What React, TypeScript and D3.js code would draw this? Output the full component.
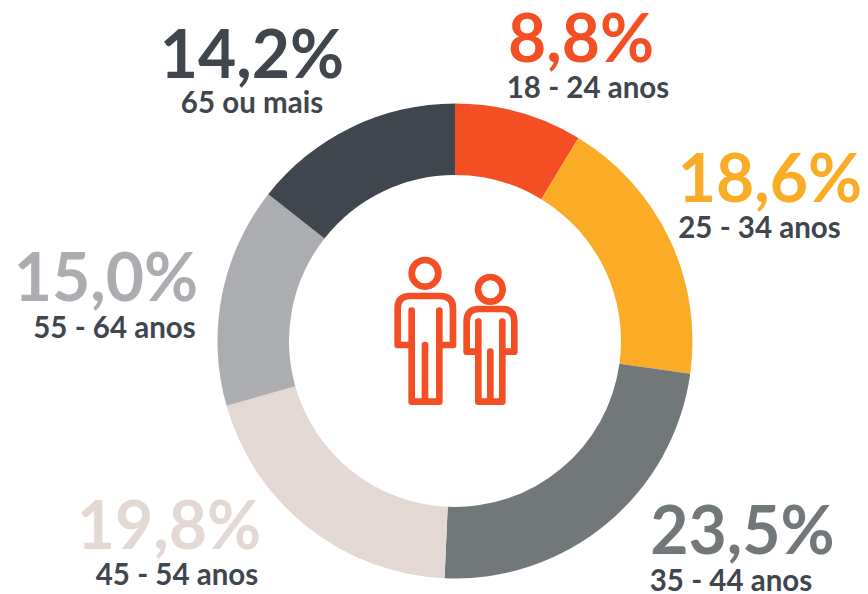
import React from "react";
import * as d3 from "d3";

const categories = ["18 - 24 anos", "25 - 34 anos", "35 - 44 anos", "45 - 54 anos", "55 - 64 anos", "65 ou mais"];
const sliceShares = [8.7, 18.5, 23.5, 19.9, 15.0, 14.4];
const valueLabels = ["8,8%", "18,6%", "23,5%", "19,8%", "15,0%", "14,2%"];
const colors = ["#f44f24", "#fbac26", "#72777a", "#e3d8d3", "#abadb1", "#40464e"];
const labelX = [581, 770, 742.5, 169, 106, 252];
const labelY = [62, 202, 554, 549, 301, 78];
const subX = [588, 759.5, 731, 177, 114.5, 252];
const subY = [98, 238, 591, 585, 338, 113];

const W = 868, H = 594, CX = 455, CY = 341, R = 237.5, r = 166;
const font = "'Lato', 'Open Sans', sans-serif";
const ink = "#40464e";
const accent = "#f44f24";

export default function App() {
  const pie = d3.pie<number>().sort(null).value((d) => d);
  const arc = d3.arc<d3.PieArcDatum<number>>().innerRadius(r).outerRadius(R);
  const arcs = pie(sliceShares);
  return (
    <svg width={W} height={H} viewBox={`0 0 ${W} ${H}`} style={{ position: "fixed", left: 0, top: 0, background: "#fff" }}>
      <g transform={`translate(${CX},${CY})`}>
        {arcs.map((a, i) => (
          <path key={categories[i]} d={arc(a) || ""} fill={colors[i]} />
        ))}
      </g>
      {categories.map((c, i) => (
        <g key={c} fontFamily={font} fontWeight={700} textAnchor="middle">
          <text x={labelX[i]} y={labelY[i]} fontSize={66} fill={colors[i]}>{valueLabels[i]}</text>
          <text x={subX[i]} y={subY[i]} fontSize={29.5} fill={ink}>{c}</text>
        </g>
      ))}
      <g transform="translate(380,240) scale(0.3333)" fill="none" stroke={accent} strokeWidth={20} strokeLinecap="round" strokeLinejoin="round">
        <circle cx={135} cy={100} r={40} />
        <path d="M95,212 L95,485 L178,485 L178,212 M95,315 L53,315 L53,205 Q53,168 90,168 L180,168 Q219,168 219,205 L219,315 L178,315 M135,315 L135,485" />
        <circle cx={331} cy={148} r={37} />
        <path d="M295,245 L295,485 L367,485 L367,245 M295,335 L260,335 L260,245 Q260,207 297,207 L366,207 Q403,207 403,245 L403,335 L367,335 M331,335 L331,485" />
      </g>
    </svg>
  );
}
